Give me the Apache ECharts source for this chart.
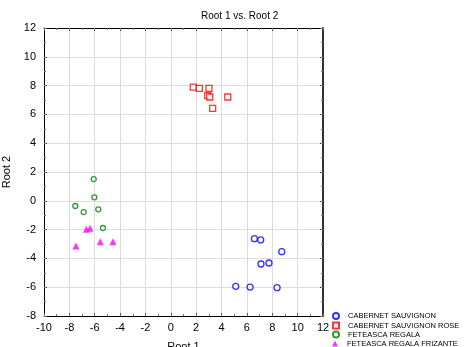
<!DOCTYPE html>
<html>
<head>
<meta charset="utf-8">
<script src="https://cdn.jsdelivr.net/npm/echarts@6/dist/echarts.min.js"></script>
<style>
  html, body { margin: 0; padding: 0; background: #fff; }
  #main { width: 465px; height: 347px; }
</style>
</head>
<body>
<div id="main"></div>
<script>
// group names and points [root1, root2]
var groups = ['CABERNET SAUVIGNON', 'CABERNET SAUVIGNON ROSE', 'FETEASCA REGALA', 'FETEASCA REGALA FRIZANTE'];
var cabernet = [[6.59, -2.63], [7.09, -2.72], [8.75, -3.53], [7.11, -4.39], [7.74, -4.32], [5.12, -5.94], [6.25, -5.99], [8.38, -6.03]];
var cabernetRose = [[1.77, 7.90], [2.25, 7.81], [3.01, 7.81], [2.91, 7.30], [3.07, 7.21], [4.49, 7.21], [3.30, 6.42]];
var feteasca = [[-6.08, 1.51], [-6.03, 0.24], [-7.53, -0.36], [-6.87, -0.78], [-5.72, -0.59], [-5.35, -1.89]];
var feteascaFrizante = [[-6.66, -1.98], [-6.37, -1.91], [-7.48, -3.14], [-5.56, -2.84], [-4.56, -2.84]];

var chart = echarts.init(document.getElementById('main'));
var font = 'Liberation Sans, Arial, sans-serif';

// major axis (ticks every 2), optionally with labels + grid lines
function majorAxis(pos, min, max, showLabel, lineW, lineC) {
    return {
        type: 'value', position: pos, min: min, max: max, interval: 2,
        axisLine: { show: true, onZero: false, lineStyle: { color: lineC || '#000', width: lineW || 1 } },
        axisTick: { show: true, inside: true, length: 3, lineStyle: { color: '#444' } },
        axisLabel: { show: showLabel, color: '#000', fontSize: 11, fontFamily: font },
        splitLine: { show: showLabel, lineStyle: { color: '#dcdcdc', width: 1 } },
        minorSplitLine: { show: false }
    };
}
// minor ticks (every 1), nothing else
function minorAxis(pos, min, max) {
    return {
        type: 'value', position: pos, min: min, max: max, interval: 1,
        axisLine: { show: false, onZero: false },
        axisTick: { show: true, inside: true, length: 2, lineStyle: { color: '#777' } },
        axisLabel: { show: false },
        splitLine: { show: false },
        minorSplitLine: { show: false }
    };
}

var xBottom = majorAxis('bottom', -10, 12, true);
xBottom.axisLabel.margin = 6;
xBottom.name = 'Root 1';
xBottom.nameLocation = 'middle';
xBottom.nameGap = 25;
xBottom.nameTextStyle = { color: '#000', fontSize: 11, fontFamily: font, verticalAlign: 'top' };

var yLeft = majorAxis('left', -8, 12, true);
yLeft.axisLabel.margin = 8;
yLeft.name = 'Root 2';
yLeft.nameLocation = 'middle';
yLeft.nameGap = 24;
yLeft.nameRotate = 90;
yLeft.nameTextStyle = { color: '#000', fontSize: 11, fontFamily: font };

function scatter(name, data, symbol, size, color, filled) {
    return {
        name: name, type: 'scatter', data: data,
        xAxisIndex: 0, yAxisIndex: 0,
        symbol: symbol, symbolSize: size,
        itemStyle: filled ? { color: color } :
            { color: '#fff', borderColor: color, borderWidth: 1.3 },
        emphasis: { disabled: true }
    };
}

function legendItem(name, top) {
    return {
        orient: 'vertical', left: 332, top: top, padding: 0,
        itemWidth: 6, itemHeight: 6,
        textStyle: { fontSize: 7.5, color: '#000', fontFamily: font, padding: [0, 0, 0, 4] },
        data: [name]
    };
}

chart.setOption({
    backgroundColor: '#fff',
    animation: false,
    title: {
        text: 'Root 1 vs. Root 2', left: 201, top: 11, padding: 0,
        textStyle: { fontSize: 10, fontWeight: 'normal', color: '#000', fontFamily: font }
    },
    grid: { left: 44, top: 28, width: 279, height: 288, outerBoundsMode: 'none' },
    xAxis: [xBottom, majorAxis('top', -10, 12, false), minorAxis('bottom', -10, 12), minorAxis('top', -10, 12)],
    yAxis: [yLeft, majorAxis('right', -8, 12, false, 2, '#333'), minorAxis('left', -8, 12), minorAxis('right', -8, 12)],
    legend: [
        legendItem(groups[0], 312),
        legendItem(groups[1], 321.5),
        legendItem(groups[2], 330.5),
        legendItem(groups[3], 339.5)
    ],
    series: [
        scatter(groups[0], cabernet, 'circle', 6, '#0000ff', false),
        scatter(groups[1], cabernetRose, 'rect', 6, '#ff0000', false),
        scatter(groups[2], feteasca, 'circle', 5, '#008000', false),
        scatter(groups[3], feteascaFrizante, 'triangle', 7, '#ff00ff', true)
    ]
});
</script>
</body>
</html>
